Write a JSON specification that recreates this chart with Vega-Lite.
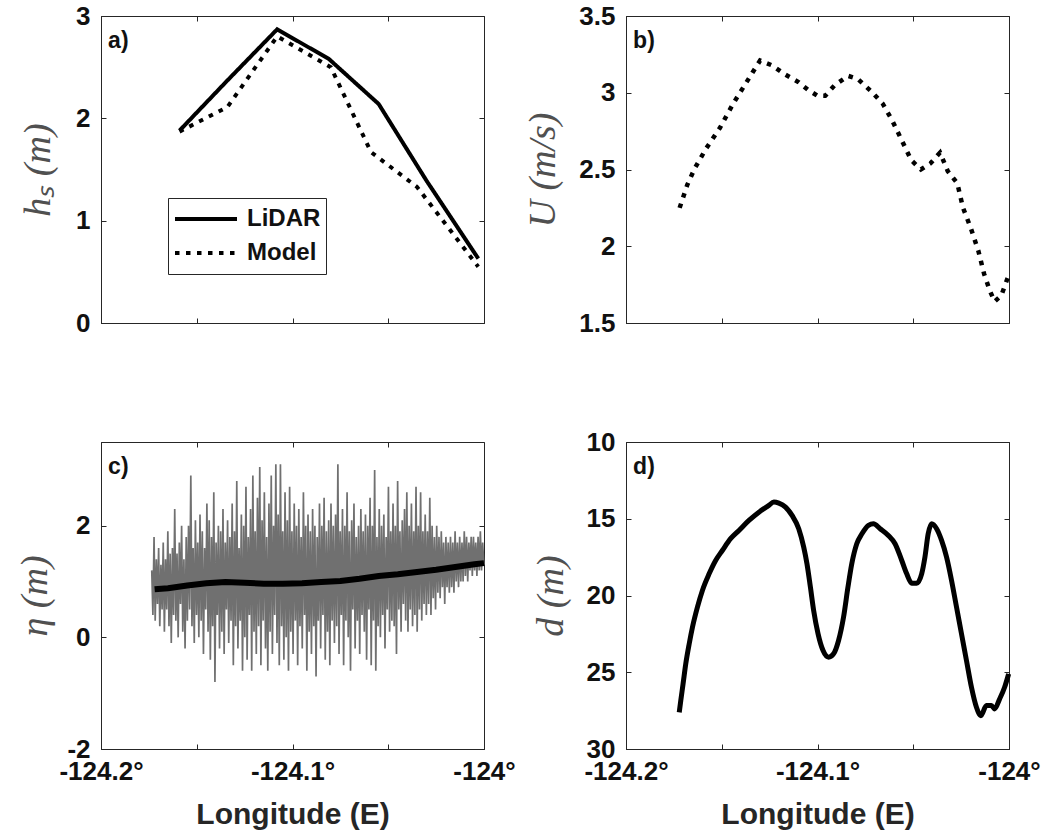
{
  "$schema": "https://vega.github.io/schema/vega-lite/v6.json",
  "background": "white",
  "padding": {"left": 15, "top": 2, "right": 5, "bottom": 5},
  "bounds": "flush",
  "columns": 2,
  "spacing": {"row": 119, "column": 142},
  "config": {
    "font": "Liberation Sans",
    "view": {"stroke": "#262626", "strokeWidth": 1},
    "axis": {
      "grid": false,
      "domainColor": "#262626",
      "tickColor": "#262626",
      "tickSize": -5,
      "labelFont": "Liberation Sans",
      "labelFontWeight": "bold",
      "labelFontSize": 26,
      "labelColor": "#111111",
      "labelFlush": false,
      "labelOverlap": false,
      "titleFont": "Liberation Sans",
      "titleFontWeight": "bold",
      "titleFontSize": 30,
      "titleColor": "#262626"
    },
    "axisLeft": {
      "labelPadding": 16,
      "titleFont": "Liberation Serif",
      "titleFontStyle": "italic",
      "titleFontWeight": "normal",
      "titleFontSize": 38,
      "titleColor": "#505050",
      "titleBaseline": "middle",
      "titleAngle": -90
    },
    "axisBottom": {"labelPadding": 14, "titleY": 74, "titleBaseline": "alphabetic"},
    "axisTop": {"labels": false, "domain": false, "title": null},
    "axisRight": {"labels": false, "domain": false, "title": null}
  },
  "concat": [
    {
      "width": 383,
      "height": 307,
      "layer": [
        {
          "data": {"values": [
            {"lon": -124.159, "hs": 1.88, "src": "LiDAR"},
            {"lon": -124.134, "hs": 2.37, "src": "LiDAR"},
            {"lon": -124.108, "hs": 2.87, "src": "LiDAR"},
            {"lon": -124.081, "hs": 2.58, "src": "LiDAR"},
            {"lon": -124.055, "hs": 2.14, "src": "LiDAR"},
            {"lon": -124.030, "hs": 1.39, "src": "LiDAR"},
            {"lon": -124.003, "hs": 0.63, "src": "LiDAR"},
            {"lon": -124.159, "hs": 1.87, "src": "Model"},
            {"lon": -124.134, "hs": 2.11, "src": "Model"},
            {"lon": -124.108, "hs": 2.80, "src": "Model"},
            {"lon": -124.080, "hs": 2.50, "src": "Model"},
            {"lon": -124.059, "hs": 1.67, "src": "Model"},
            {"lon": -124.035, "hs": 1.33, "src": "Model"},
            {"lon": -124.003, "hs": 0.55, "src": "Model"}
          ]},
          "mark": {"type": "line", "color": "black", "strokeWidth": 4},
          "encoding": {
            "x": {"field": "lon", "type": "quantitative", "scale": {"domain": [-124.2, -124], "nice": false, "zero": false},
                  "axis": {"values": [-124.2, -124.15, -124.1, -124.05, -124], "labels": false, "title": null}},
            "y": {"field": "hs", "type": "quantitative", "scale": {"domain": [0, 3], "nice": false, "zero": false},
                  "axis": {"values": [0, 1, 2, 3], "labelExpr": "'' + datum.value", "title": "hₛ (m)", "titleX": -63}},
            "strokeDash": {"field": "src", "type": "nominal",
                  "scale": {"domain": ["LiDAR", "Model"], "range": [[1, 0], [4.5, 6.5]]},
                  "legend": {"orient": "none", "legendX": 67, "legendY": 182, "title": null,
                             "strokeColor": "#262626", "fillColor": "white", "padding": 5,
                             "clipHeight": 32, "rowPadding": 2, "labelOffset": 8,
                             "symbolType": "stroke", "symbolSize": 3844, "symbolStrokeWidth": 4,
                             "symbolStrokeColor": "black", "labelFont": "Liberation Sans",
                             "labelFontWeight": "bold", "labelFontSize": 24, "labelColor": "#111111"}}
          }
        },
        {
          "data": {"values": [{"label": "a)"}]},
          "mark": {"type": "text", "align": "left", "baseline": "alphabetic", "fontSize": 23, "fontWeight": "bold", "color": "#111111"},
          "encoding": {
            "text": {"field": "label"},
            "x": {"datum": -124.1963, "type": "quantitative", "scale": {"domain": [-124.2, -124], "nice": false, "zero": false},
                  "axis": {"orient": "top", "values": [-124.2, -124.15, -124.1, -124.05, -124], "labels": false, "title": null}},
            "y": {"datum": 2.69, "type": "quantitative", "scale": {"domain": [0, 3], "nice": false, "zero": false},
                  "axis": {"orient": "right", "values": [0, 1, 2, 3], "labels": false, "title": null}}
          }
        }
      ],
      "resolve": {"axis": {"x": "independent", "y": "independent"}}
    },
    {
      "width": 383,
      "height": 307,
      "layer": [
        {
          "data": {"values": [
            {"lon": -124.172, "u": 2.25},
            {"lon": -124.168, "u": 2.40},
            {"lon": -124.164, "u": 2.51},
            {"lon": -124.158, "u": 2.64},
            {"lon": -124.151, "u": 2.77},
            {"lon": -124.144, "u": 2.93},
            {"lon": -124.139, "u": 3.03},
            {"lon": -124.134, "u": 3.13},
            {"lon": -124.130, "u": 3.21},
            {"lon": -124.124, "u": 3.18},
            {"lon": -124.117, "u": 3.12},
            {"lon": -124.110, "u": 3.07},
            {"lon": -124.105, "u": 3.02},
            {"lon": -124.100, "u": 2.98},
            {"lon": -124.096, "u": 2.98},
            {"lon": -124.091, "u": 3.05},
            {"lon": -124.084, "u": 3.11},
            {"lon": -124.079, "u": 3.09},
            {"lon": -124.072, "u": 3.01},
            {"lon": -124.066, "u": 2.93},
            {"lon": -124.061, "u": 2.82},
            {"lon": -124.056, "u": 2.69},
            {"lon": -124.051, "u": 2.56},
            {"lon": -124.046, "u": 2.50},
            {"lon": -124.041, "u": 2.54},
            {"lon": -124.036, "u": 2.61},
            {"lon": -124.032, "u": 2.49},
            {"lon": -124.027, "u": 2.41},
            {"lon": -124.024, "u": 2.25},
            {"lon": -124.020, "u": 2.12},
            {"lon": -124.016, "u": 1.97},
            {"lon": -124.013, "u": 1.82},
            {"lon": -124.010, "u": 1.71},
            {"lon": -124.0075, "u": 1.64},
            {"lon": -124.004, "u": 1.68},
            {"lon": -124.0005, "u": 1.80}
          ]},
          "mark": {"type": "line", "color": "black", "strokeWidth": 4.5, "strokeDash": [4.5, 6.5]},
          "encoding": {
            "x": {"field": "lon", "type": "quantitative", "scale": {"domain": [-124.2, -124], "nice": false, "zero": false},
                  "axis": {"values": [-124.2, -124.15, -124.1, -124.05, -124], "labels": false, "title": null}},
            "y": {"field": "u", "type": "quantitative", "scale": {"domain": [1.5, 3.5], "nice": false, "zero": false},
                  "axis": {"values": [1.5, 2, 2.5, 3, 3.5], "labelExpr": "'' + datum.value", "title": "U (m/s)", "titleX": -83}}
          }
        },
        {
          "data": {"values": [{"label": "b)"}]},
          "mark": {"type": "text", "align": "left", "baseline": "alphabetic", "fontSize": 23, "fontWeight": "bold", "color": "#111111"},
          "encoding": {
            "text": {"field": "label"},
            "x": {"datum": -124.1963, "type": "quantitative", "scale": {"domain": [-124.2, -124], "nice": false, "zero": false},
                  "axis": {"orient": "top", "values": [-124.2, -124.15, -124.1, -124.05, -124], "labels": false, "title": null}},
            "y": {"datum": 3.29, "type": "quantitative", "scale": {"domain": [1.5, 3.5], "nice": false, "zero": false},
                  "axis": {"orient": "right", "values": [1.5, 2, 2.5, 3, 3.5], "labels": false, "title": null}}
          }
        }
      ],
      "resolve": {"axis": {"x": "independent", "y": "independent"}}
    },
    {
      "width": 383,
      "height": 307,
      "layer": [
        {
          "data": {"values": [
            {"lon": -124.1735, "eta": 1.2}, {"lon": -124.1729, "eta": 0.4}, {"lon": -124.1723, "eta": 1.8}, {"lon": -124.1717, "eta": 0.3}, {"lon": -124.1711, "eta": 1.4}, {"lon": -124.1705, "eta": 0.6}, {"lon": -124.1699, "eta": 1.6}, {"lon": -124.1693, "eta": 0.2}, {"lon": -124.1687, "eta": 1.3}, {"lon": -124.1681, "eta": 0.5},
            {"lon": -124.1675, "eta": 1.7}, {"lon": -124.1669, "eta": 0.1}, {"lon": -124.1663, "eta": 1.4}, {"lon": -124.1657, "eta": 0.5}, {"lon": -124.1651, "eta": 1.9}, {"lon": -124.1645, "eta": 0.2}, {"lon": -124.1639, "eta": 1.5}, {"lon": -124.1633, "eta": -0.1}, {"lon": -124.1627, "eta": 1.6}, {"lon": -124.1621, "eta": 0.4},
            {"lon": -124.1615, "eta": 2.3}, {"lon": -124.1609, "eta": 0.3}, {"lon": -124.1603, "eta": 1.5}, {"lon": -124.1597, "eta": 0.0}, {"lon": -124.1591, "eta": 1.7}, {"lon": -124.1585, "eta": 0.6}, {"lon": -124.1579, "eta": 2.0}, {"lon": -124.1573, "eta": 0.1}, {"lon": -124.1567, "eta": 1.4}, {"lon": -124.1561, "eta": -0.2},
            {"lon": -124.1555, "eta": 1.8}, {"lon": -124.1549, "eta": 0.3}, {"lon": -124.1543, "eta": 2.0}, {"lon": -124.1537, "eta": 0.5}, {"lon": -124.1531, "eta": 2.9}, {"lon": -124.1525, "eta": 0.2}, {"lon": -124.1519, "eta": 1.6}, {"lon": -124.1513, "eta": -0.1}, {"lon": -124.1507, "eta": 2.1}, {"lon": -124.1501, "eta": 0.4},
            {"lon": -124.1495, "eta": 1.7}, {"lon": -124.1489, "eta": 0.0}, {"lon": -124.1483, "eta": 2.2}, {"lon": -124.1477, "eta": 0.3}, {"lon": -124.1471, "eta": 1.9}, {"lon": -124.1465, "eta": -0.3}, {"lon": -124.1459, "eta": 1.6}, {"lon": -124.1453, "eta": 0.5}, {"lon": -124.1447, "eta": 2.4}, {"lon": -124.1441, "eta": 0.1},
            {"lon": -124.1435, "eta": 2.1}, {"lon": -124.1429, "eta": -0.4}, {"lon": -124.1423, "eta": 1.8}, {"lon": -124.1417, "eta": 0.2}, {"lon": -124.1411, "eta": 2.6}, {"lon": -124.1405, "eta": -0.8}, {"lon": -124.1399, "eta": 1.7}, {"lon": -124.1393, "eta": 0.4}, {"lon": -124.1387, "eta": 2.0}, {"lon": -124.1381, "eta": -0.2},
            {"lon": -124.1375, "eta": 1.9}, {"lon": -124.1369, "eta": 0.1}, {"lon": -124.1363, "eta": 2.3}, {"lon": -124.1357, "eta": -0.3}, {"lon": -124.1351, "eta": 1.7}, {"lon": -124.1345, "eta": 0.5}, {"lon": -124.1339, "eta": 2.1}, {"lon": -124.1333, "eta": -0.1}, {"lon": -124.1327, "eta": 1.8}, {"lon": -124.1321, "eta": 0.3},
            {"lon": -124.1315, "eta": 2.4}, {"lon": -124.1309, "eta": -0.5}, {"lon": -124.1303, "eta": 1.9}, {"lon": -124.1297, "eta": 0.2}, {"lon": -124.1291, "eta": 2.8}, {"lon": -124.1285, "eta": -0.2}, {"lon": -124.1279, "eta": 1.6}, {"lon": -124.1273, "eta": 0.3}, {"lon": -124.1267, "eta": 2.2}, {"lon": -124.1261, "eta": -0.6},
            {"lon": -124.1255, "eta": 2.0}, {"lon": -124.1249, "eta": 0.0}, {"lon": -124.1243, "eta": 2.7}, {"lon": -124.1237, "eta": -0.4}, {"lon": -124.1231, "eta": 1.8}, {"lon": -124.1225, "eta": 0.4}, {"lon": -124.1219, "eta": 2.3}, {"lon": -124.1213, "eta": -0.6}, {"lon": -124.1207, "eta": 2.9}, {"lon": -124.1201, "eta": 0.1},
            {"lon": -124.1195, "eta": 1.9}, {"lon": -124.1189, "eta": -0.3}, {"lon": -124.1183, "eta": 2.5}, {"lon": -124.1177, "eta": 0.2}, {"lon": -124.1171, "eta": 3.05}, {"lon": -124.1165, "eta": -0.5}, {"lon": -124.1159, "eta": 2.1}, {"lon": -124.1153, "eta": 0.3}, {"lon": -124.1147, "eta": 2.6}, {"lon": -124.1141, "eta": -0.2},
            {"lon": -124.1135, "eta": 1.8}, {"lon": -124.1129, "eta": -0.6}, {"lon": -124.1123, "eta": 2.4}, {"lon": -124.1117, "eta": 0.1}, {"lon": -124.1111, "eta": 2.9}, {"lon": -124.1105, "eta": -0.3}, {"lon": -124.1099, "eta": 2.0}, {"lon": -124.1093, "eta": 0.4}, {"lon": -124.1087, "eta": 3.1}, {"lon": -124.1081, "eta": -0.1},
            {"lon": -124.1075, "eta": 2.2}, {"lon": -124.1069, "eta": -0.5}, {"lon": -124.1063, "eta": 3.1}, {"lon": -124.1057, "eta": 0.2}, {"lon": -124.1051, "eta": 1.9}, {"lon": -124.1045, "eta": -0.4}, {"lon": -124.1039, "eta": 2.6}, {"lon": -124.1033, "eta": 0.0}, {"lon": -124.1027, "eta": 2.1}, {"lon": -124.1021, "eta": -0.6},
            {"lon": -124.1015, "eta": 2.7}, {"lon": -124.1009, "eta": 0.1}, {"lon": -124.1003, "eta": 1.9}, {"lon": -124.0997, "eta": -0.3}, {"lon": -124.0991, "eta": 2.4}, {"lon": -124.0985, "eta": 0.3}, {"lon": -124.0979, "eta": 2.0}, {"lon": -124.0973, "eta": -0.5}, {"lon": -124.0967, "eta": 2.3}, {"lon": -124.0961, "eta": 0.2},
            {"lon": -124.0955, "eta": 1.8}, {"lon": -124.0949, "eta": -0.2}, {"lon": -124.0943, "eta": 2.6}, {"lon": -124.0937, "eta": 0.4}, {"lon": -124.0931, "eta": 2.0}, {"lon": -124.0925, "eta": -0.6}, {"lon": -124.0919, "eta": 2.2}, {"lon": -124.0913, "eta": 0.1}, {"lon": -124.0907, "eta": 1.9}, {"lon": -124.0901, "eta": -0.3},
            {"lon": -124.0895, "eta": 2.3}, {"lon": -124.0889, "eta": 0.2}, {"lon": -124.0883, "eta": 2.0}, {"lon": -124.0877, "eta": -0.7}, {"lon": -124.0871, "eta": 1.8}, {"lon": -124.0865, "eta": 0.3}, {"lon": -124.0859, "eta": 2.4}, {"lon": -124.0853, "eta": -0.2}, {"lon": -124.0847, "eta": 2.0}, {"lon": -124.0841, "eta": 0.4},
            {"lon": -124.0835, "eta": 2.5}, {"lon": -124.0829, "eta": -0.4}, {"lon": -124.0823, "eta": 1.9}, {"lon": -124.0817, "eta": 0.1}, {"lon": -124.0811, "eta": 2.1}, {"lon": -124.0805, "eta": -0.5}, {"lon": -124.0799, "eta": 2.4}, {"lon": -124.0793, "eta": 0.3}, {"lon": -124.0787, "eta": 2.0}, {"lon": -124.0781, "eta": -0.1},
            {"lon": -124.0775, "eta": 2.2}, {"lon": -124.0769, "eta": 0.2}, {"lon": -124.0763, "eta": 3.1}, {"lon": -124.0757, "eta": -0.3}, {"lon": -124.0751, "eta": 1.9}, {"lon": -124.0745, "eta": 0.4}, {"lon": -124.0739, "eta": 2.3}, {"lon": -124.0733, "eta": -0.5}, {"lon": -124.0727, "eta": 2.0}, {"lon": -124.0721, "eta": 0.3},
            {"lon": -124.0715, "eta": 2.6}, {"lon": -124.0709, "eta": 0.0}, {"lon": -124.0703, "eta": 1.9}, {"lon": -124.0697, "eta": -0.6}, {"lon": -124.0691, "eta": 2.1}, {"lon": -124.0685, "eta": 0.5}, {"lon": -124.0679, "eta": 2.4}, {"lon": -124.0673, "eta": -0.2}, {"lon": -124.0667, "eta": 1.8}, {"lon": -124.0661, "eta": 0.3},
            {"lon": -124.0655, "eta": 2.0}, {"lon": -124.0649, "eta": -0.3}, {"lon": -124.0643, "eta": 2.3}, {"lon": -124.0637, "eta": 0.4}, {"lon": -124.0631, "eta": 1.9}, {"lon": -124.0625, "eta": 0.1}, {"lon": -124.0619, "eta": 2.2}, {"lon": -124.0613, "eta": -0.4}, {"lon": -124.0607, "eta": 2.0}, {"lon": -124.0601, "eta": 0.5},
            {"lon": -124.0595, "eta": 2.5}, {"lon": -124.0589, "eta": -0.5}, {"lon": -124.0583, "eta": 2.0}, {"lon": -124.0577, "eta": 0.3}, {"lon": -124.0571, "eta": 3.0}, {"lon": -124.0565, "eta": -0.6}, {"lon": -124.0559, "eta": 1.8}, {"lon": -124.0553, "eta": 0.2}, {"lon": -124.0547, "eta": 2.3}, {"lon": -124.0541, "eta": 0.0},
            {"lon": -124.0535, "eta": 2.0}, {"lon": -124.0529, "eta": 0.4}, {"lon": -124.0523, "eta": 2.2}, {"lon": -124.0517, "eta": -0.2}, {"lon": -124.0511, "eta": 1.8}, {"lon": -124.0505, "eta": 0.5}, {"lon": -124.0499, "eta": 2.7}, {"lon": -124.0493, "eta": 0.1}, {"lon": -124.0487, "eta": 1.9}, {"lon": -124.0481, "eta": 0.3},
            {"lon": -124.0475, "eta": 2.4}, {"lon": -124.0469, "eta": 0.2}, {"lon": -124.0463, "eta": 2.0}, {"lon": -124.0457, "eta": -0.3}, {"lon": -124.0451, "eta": 2.8}, {"lon": -124.0445, "eta": 0.5}, {"lon": -124.0439, "eta": 1.9}, {"lon": -124.0433, "eta": 0.1}, {"lon": -124.0427, "eta": 2.1}, {"lon": -124.0421, "eta": 0.6},
            {"lon": -124.0415, "eta": 2.3}, {"lon": -124.0409, "eta": 0.3}, {"lon": -124.0403, "eta": 2.6}, {"lon": -124.0397, "eta": 0.1}, {"lon": -124.0391, "eta": 2.0}, {"lon": -124.0385, "eta": 0.5}, {"lon": -124.0379, "eta": 2.4}, {"lon": -124.0373, "eta": 0.2}, {"lon": -124.0367, "eta": 1.9}, {"lon": -124.0361, "eta": 0.4},
            {"lon": -124.0355, "eta": 2.7}, {"lon": -124.0349, "eta": 0.1}, {"lon": -124.0343, "eta": 2.0}, {"lon": -124.0337, "eta": 0.5}, {"lon": -124.0331, "eta": 2.6}, {"lon": -124.0325, "eta": 0.3}, {"lon": -124.0319, "eta": 1.9}, {"lon": -124.0313, "eta": 0.6}, {"lon": -124.0307, "eta": 2.2}, {"lon": -124.0301, "eta": 0.4},
            {"lon": -124.0295, "eta": 1.9}, {"lon": -124.0289, "eta": 0.6}, {"lon": -124.0283, "eta": 2.5}, {"lon": -124.0277, "eta": 0.4}, {"lon": -124.0271, "eta": 2.0}, {"lon": -124.0265, "eta": 0.7}, {"lon": -124.0259, "eta": 1.8}, {"lon": -124.0253, "eta": 0.5}, {"lon": -124.0247, "eta": 2.0}, {"lon": -124.0241, "eta": 0.8},
            {"lon": -124.0235, "eta": 1.8}, {"lon": -124.0229, "eta": 0.7}, {"lon": -124.0223, "eta": 1.9}, {"lon": -124.0217, "eta": 0.9}, {"lon": -124.0211, "eta": 1.7}, {"lon": -124.0205, "eta": 0.6}, {"lon": -124.0199, "eta": 1.8}, {"lon": -124.0193, "eta": 0.9}, {"lon": -124.0187, "eta": 1.7}, {"lon": -124.0181, "eta": 0.8},
            {"lon": -124.0175, "eta": 1.8}, {"lon": -124.0169, "eta": 0.9}, {"lon": -124.0163, "eta": 1.7}, {"lon": -124.0157, "eta": 0.8}, {"lon": -124.0151, "eta": 1.9}, {"lon": -124.0145, "eta": 1.0}, {"lon": -124.0139, "eta": 1.7}, {"lon": -124.0133, "eta": 0.9}, {"lon": -124.0127, "eta": 1.8}, {"lon": -124.0121, "eta": 1.0},
            {"lon": -124.0115, "eta": 1.7}, {"lon": -124.0109, "eta": 1.0}, {"lon": -124.0103, "eta": 1.9}, {"lon": -124.0097, "eta": 1.1}, {"lon": -124.0091, "eta": 1.8}, {"lon": -124.0085, "eta": 1.0}, {"lon": -124.0079, "eta": 1.7}, {"lon": -124.0073, "eta": 1.2}, {"lon": -124.0067, "eta": 1.8}, {"lon": -124.0061, "eta": 1.1},
            {"lon": -124.0055, "eta": 1.8}, {"lon": -124.0049, "eta": 1.2}, {"lon": -124.0043, "eta": 1.7}, {"lon": -124.0037, "eta": 1.1}, {"lon": -124.0031, "eta": 1.8}, {"lon": -124.0025, "eta": 1.2}, {"lon": -124.0019, "eta": 1.9}, {"lon": -124.0013, "eta": 1.2}, {"lon": -124.0007, "eta": 1.7}, {"lon": -124.0001, "eta": 1.3}
          ]},
          "mark": {"type": "line", "color": "#707070", "strokeWidth": 1.7},
          "encoding": {
            "x": {"field": "lon", "type": "quantitative", "scale": {"domain": [-124.2, -124], "nice": false, "zero": false},
                  "axis": {"values": [-124.2, -124.15, -124.1, -124.05, -124],
                           "labelExpr": "datum.value == -124.2 || datum.value == -124.1 || datum.value == -124 ? datum.value + '°' : ''",
                           "title": "Longitude (E)"}},
            "y": {"field": "eta", "type": "quantitative", "scale": {"domain": [-2, 3.5], "nice": false, "zero": false},
                  "axis": {"values": [-2, 0, 2], "labelExpr": "'' + datum.value", "title": "η (m)", "titleX": -66}}
          }
        },
        {
          "data": {"values": [
            {"lon": -124.172, "eta": 0.86}, {"lon": -124.165, "eta": 0.88}, {"lon": -124.155, "eta": 0.93},
            {"lon": -124.145, "eta": 0.97}, {"lon": -124.135, "eta": 0.99}, {"lon": -124.125, "eta": 0.98},
            {"lon": -124.115, "eta": 0.96}, {"lon": -124.105, "eta": 0.96}, {"lon": -124.095, "eta": 0.97},
            {"lon": -124.085, "eta": 0.99}, {"lon": -124.075, "eta": 1.01}, {"lon": -124.065, "eta": 1.05},
            {"lon": -124.055, "eta": 1.10}, {"lon": -124.045, "eta": 1.13}, {"lon": -124.035, "eta": 1.17},
            {"lon": -124.025, "eta": 1.21}, {"lon": -124.015, "eta": 1.26}, {"lon": -124.005, "eta": 1.31},
            {"lon": -124.000, "eta": 1.33}
          ]},
          "mark": {"type": "line", "color": "black", "strokeWidth": 6},
          "encoding": {
            "x": {"field": "lon", "type": "quantitative", "scale": {"domain": [-124.2, -124], "nice": false, "zero": false}, "axis": null},
            "y": {"field": "eta", "type": "quantitative", "scale": {"domain": [-2, 3.5], "nice": false, "zero": false}, "axis": null}
          }
        },
        {
          "data": {"values": [{"label": "c)"}]},
          "mark": {"type": "text", "align": "left", "baseline": "alphabetic", "fontSize": 23, "fontWeight": "bold", "color": "#111111"},
          "encoding": {
            "text": {"field": "label"},
            "x": {"datum": -124.1963, "type": "quantitative", "scale": {"domain": [-124.2, -124], "nice": false, "zero": false},
                  "axis": {"orient": "top", "values": [-124.2, -124.15, -124.1, -124.05, -124], "labels": false, "title": null}},
            "y": {"datum": 2.93, "type": "quantitative", "scale": {"domain": [-2, 3.5], "nice": false, "zero": false},
                  "axis": {"orient": "right", "values": [-2, 0, 2], "labels": false, "title": null}}
          }
        }
      ],
      "resolve": {"axis": {"x": "independent", "y": "independent"}}
    },
    {
      "width": 383,
      "height": 307,
      "layer": [
        {
          "data": {"values": [
            {"lon": -124.1722, "d": 27.61}, {"lon": -124.1714, "d": 26.85}, {"lon": -124.1702, "d": 25.76},
            {"lon": -124.1688, "d": 24.46}, {"lon": -124.1670, "d": 23.15}, {"lon": -124.1653, "d": 22.07},
            {"lon": -124.1627, "d": 20.76}, {"lon": -124.1601, "d": 19.67}, {"lon": -124.1566, "d": 18.59},
            {"lon": -124.1532, "d": 17.72}, {"lon": -124.1497, "d": 17.07}, {"lon": -124.1454, "d": 16.30},
            {"lon": -124.1410, "d": 15.76}, {"lon": -124.1358, "d": 15.11}, {"lon": -124.1306, "d": 14.57},
            {"lon": -124.1254, "d": 14.13}, {"lon": -124.1228, "d": 13.91}, {"lon": -124.1202, "d": 13.98},
            {"lon": -124.1167, "d": 14.24}, {"lon": -124.1133, "d": 14.78}, {"lon": -124.1098, "d": 15.65},
            {"lon": -124.1072, "d": 16.85}, {"lon": -124.1055, "d": 17.93}, {"lon": -124.1037, "d": 19.46},
            {"lon": -124.1020, "d": 20.98}, {"lon": -124.0997, "d": 22.50}, {"lon": -124.0971, "d": 23.59},
            {"lon": -124.0942, "d": 24.02}, {"lon": -124.0916, "d": 23.80}, {"lon": -124.0890, "d": 22.93},
            {"lon": -124.0864, "d": 21.41}, {"lon": -124.0841, "d": 19.46}, {"lon": -124.0821, "d": 17.93},
            {"lon": -124.0795, "d": 16.63}, {"lon": -124.0768, "d": 15.98}, {"lon": -124.0734, "d": 15.43},
            {"lon": -124.0708, "d": 15.33}, {"lon": -124.0673, "d": 15.65}, {"lon": -124.0630, "d": 16.09},
            {"lon": -124.0595, "d": 16.63}, {"lon": -124.0560, "d": 17.72}, {"lon": -124.0534, "d": 18.59},
            {"lon": -124.0508, "d": 19.20}, {"lon": -124.0482, "d": 19.20}, {"lon": -124.0456, "d": 18.59},
            {"lon": -124.0439, "d": 17.50}, {"lon": -124.0422, "d": 15.98}, {"lon": -124.0404, "d": 15.33},
            {"lon": -124.0378, "d": 15.65}, {"lon": -124.0352, "d": 16.41}, {"lon": -124.0326, "d": 17.50},
            {"lon": -124.0300, "d": 19.02}, {"lon": -124.0274, "d": 20.76}, {"lon": -124.0248, "d": 22.50},
            {"lon": -124.0222, "d": 24.24}, {"lon": -124.0196, "d": 25.98}, {"lon": -124.0170, "d": 27.28},
            {"lon": -124.0147, "d": 27.83}, {"lon": -124.0118, "d": 27.17}, {"lon": -124.0092, "d": 27.17},
            {"lon": -124.0075, "d": 27.39}, {"lon": -124.0049, "d": 26.74}, {"lon": -124.0023, "d": 25.98},
            {"lon": -124.0002, "d": 25.11}
          ]},
          "mark": {"type": "line", "color": "black", "strokeWidth": 5, "interpolate": "monotone"},
          "encoding": {
            "x": {"field": "lon", "type": "quantitative", "scale": {"domain": [-124.2, -124], "nice": false, "zero": false},
                  "axis": {"values": [-124.2, -124.15, -124.1, -124.05, -124],
                           "labelExpr": "datum.value == -124.2 || datum.value == -124.1 || datum.value == -124 ? datum.value + '°' : ''",
                           "title": "Longitude (E)"}},
            "y": {"field": "d", "type": "quantitative", "scale": {"domain": [10, 30], "reverse": true, "nice": false, "zero": false},
                  "axis": {"values": [10, 15, 20, 25, 30], "labelExpr": "'' + datum.value", "title": "d (m)", "titleX": -75}}
          }
        },
        {
          "data": {"values": [{"label": "d)"}]},
          "mark": {"type": "text", "align": "left", "baseline": "alphabetic", "fontSize": 23, "fontWeight": "bold", "color": "#111111"},
          "encoding": {
            "text": {"field": "label"},
            "x": {"datum": -124.1963, "type": "quantitative", "scale": {"domain": [-124.2, -124], "nice": false, "zero": false},
                  "axis": {"orient": "top", "values": [-124.2, -124.15, -124.1, -124.05, -124], "labels": false, "title": null}},
            "y": {"datum": 12.08, "type": "quantitative", "scale": {"domain": [10, 30], "reverse": true, "nice": false, "zero": false},
                  "axis": {"orient": "right", "values": [10, 15, 20, 25, 30], "labels": false, "title": null}}
          }
        }
      ],
      "resolve": {"axis": {"x": "independent", "y": "independent"}}
    }
  ]
}
